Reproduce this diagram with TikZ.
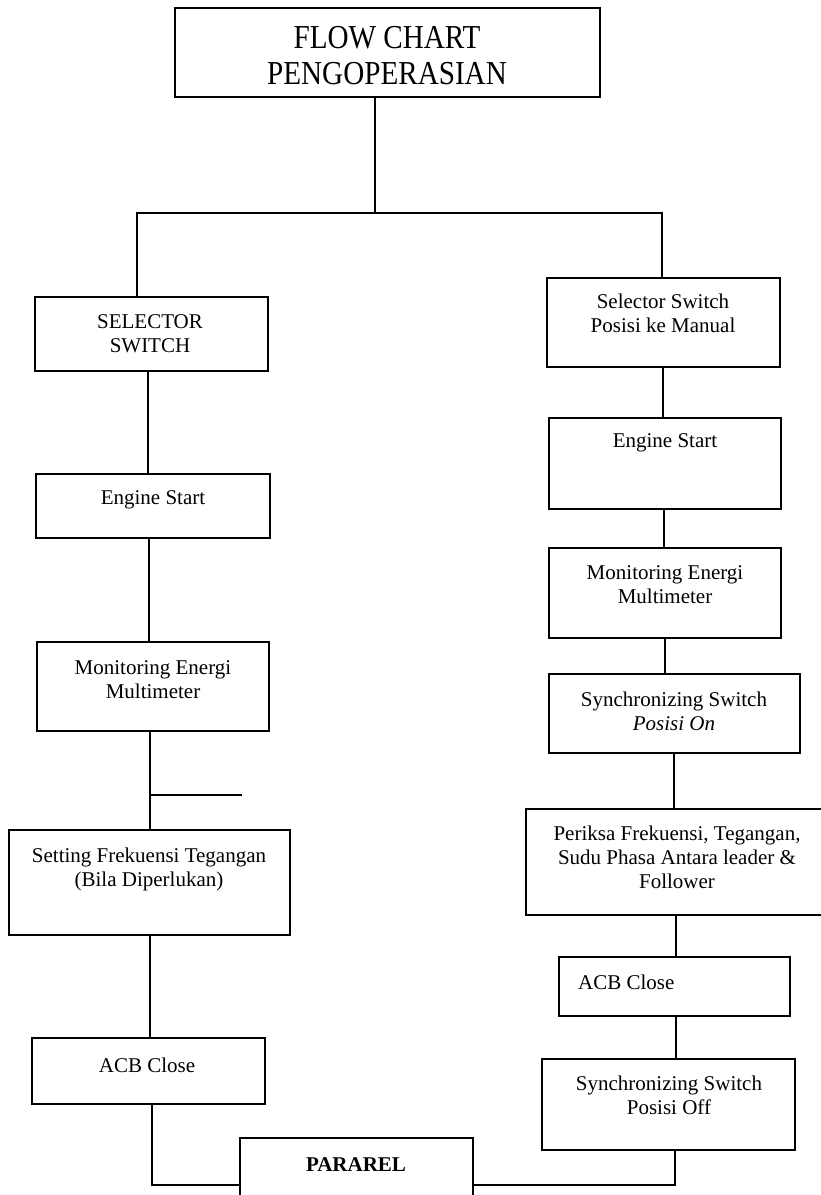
\documentclass[tikz,border=0pt]{standalone}
\usepackage{fontspec}
\setmainfont{Liberation Serif}
\newfontfamily\titlefont{Liberation Serif}[FakeStretch=0.87]
\usetikzlibrary{positioning}

\tikzset{
  box/.style={draw, line width=1.5pt, rectangle, anchor=north west, inner sep=0pt, outer sep=0pt},
  txt/.style={align=center, font=\fontsize{21}{24}\selectfont, inner sep=0pt},
  wire/.style={line width=1.5pt},
}

\begin{document}
\begin{tikzpicture}[x=1pt, y=-1pt]

\useasboundingbox (0,0) rectangle (821,1195);
\clip (0,0) rectangle (821,1195);

% boxes
\node[box, minimum width=425pt, minimum height=89pt] (title) at (175,8) {};
\node[box, minimum width=233pt, minimum height=74pt] (sel) at (35,297) {};
\node[box, minimum width=234pt, minimum height=64pt] (engL) at (36,474) {};
\node[box, minimum width=232pt, minimum height=89pt] (monL) at (37,642) {};
\node[box, minimum width=281pt, minimum height=105pt] (setL) at (9,830) {};
\node[box, minimum width=233pt, minimum height=66pt] (acbL) at (32,1038) {};

\node[box, minimum width=233pt, minimum height=89pt] (selman) at (547,278) {};
\node[box, minimum width=232pt, minimum height=91pt] (engR) at (549,418) {};
\node[box, minimum width=232pt, minimum height=90pt] (monR) at (549,548) {};
\node[box, minimum width=251pt, minimum height=79pt] (syncOn) at (549,674) {};
\node[box, minimum width=310pt, minimum height=106pt] (periksa) at (526,809) {};
\node[box, minimum width=231pt, minimum height=59pt] (acbR) at (559,957) {};
\node[box, minimum width=253pt, minimum height=91pt] (syncOff) at (542,1059) {};

\node[box, minimum width=233pt, minimum height=90pt] (pararel) at (240,1138) {};

% texts
\node[txt, font=\fontsize{33.5}{36}\titlefont] (titleT) at (387,56) {FLOW CHART\\PENGOPERASIAN};
\node[txt] (selT) at (150,334) {SELECTOR\\SWITCH};
\node[txt] (engLT) at (153,500) {Engine Start};
\node[txt] (monLT) at (153,680) {Monitoring Energi\\Multimeter};
\node[txt] (setLT) at (149,869) {Setting Frekuensi Tegangan\\(Bila Diperlukan)};
\node[txt] (acbLT) at (147,1065) {ACB Close};

\node[txt] (selmanT) at (663,313) {Selector Switch\\Posisi ke Manual};
\node[txt] (engRT) at (665,443) {Engine Start};
\node[txt] (monRT) at (665,585) {Monitoring Energi\\Multimeter};
\node[txt] (syncOnT) at (674,711) {Synchronizing Switch\\\textit{Posisi On}};
\node[txt] (periksaT) at (677,857) {Periksa Frekuensi, Tegangan,\\Sudu Phasa Antara leader \&\\Follower};
\node[txt, anchor=west] (acbRT) at (578,982) {ACB Close};
\node[txt] (syncOffT) at (669,1095) {Synchronizing Switch\\Posisi Off};

\node[txt, font=\fontsize{21}{24}\selectfont\bfseries] (pararelT) at (356,1165) {PARAREL};

% line positions
\coordinate (split) at (375,213);
\coordinate (jl) at (137,213);
\coordinate (jr) at (662,213);
\coordinate (l1) at (148,0);
\coordinate (l2) at (149,0);
\coordinate (l3) at (150,0);
\coordinate (l5) at (152,0);
\coordinate (r1) at (663,0);
\coordinate (r2) at (664,0);
\coordinate (r3) at (665,0);
\coordinate (r4) at (674,0);
\coordinate (r5) at (676,0);
\coordinate (r7) at (675,0);
\coordinate (stub) at (242,795);
\coordinate (bot) at (0,1185);

% connectors
\draw[wire] (title.south -| split) -- (split);
\draw[wire] (sel.north -| jl) -- (jl) -- (jr) -- (selman.north -| jr);

\draw[wire] (sel.south -| l1) -- (engL.north -| l1);
\draw[wire] (engL.south -| l2) -- (monL.north -| l2);
\draw[wire] (monL.south -| l3) -- (setL.north -| l3);
\draw[wire] (l3 |- stub) -- (stub);
\draw[wire] (setL.south -| l3) -- (acbL.north -| l3);
\draw[wire] (acbL.south -| l5) |- (pararel.west |- bot);

\draw[wire] (selman.south -| r1) -- (engR.north -| r1);
\draw[wire] (engR.south -| r2) -- (monR.north -| r2);
\draw[wire] (monR.south -| r3) -- (syncOn.north -| r3);
\draw[wire] (syncOn.south -| r4) -- (periksa.north -| r4);
\draw[wire] (periksa.south -| r5) -- (acbR.north -| r5);
\draw[wire] (acbR.south -| r5) -- (syncOff.north -| r5);
\draw[wire] (syncOff.south -| r7) |- (pararel.east |- bot);

\end{tikzpicture}
\end{document}
